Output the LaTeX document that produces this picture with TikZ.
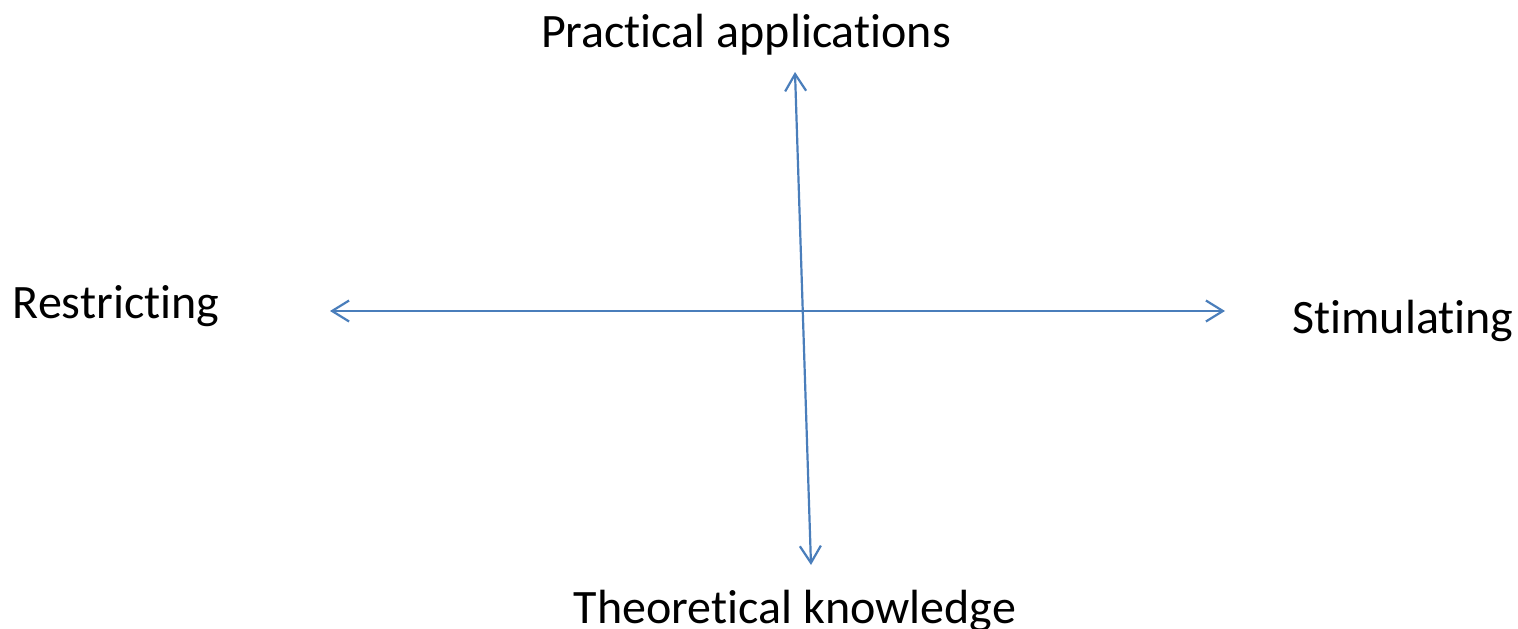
\documentclass[tikz,border=0pt]{standalone}
\usepackage{fontspec}
\setmainfont{Carlito}[Ligatures={NoCommon}]
\usepackage{tikz}
\usetikzlibrary{positioning}
\usetikzlibrary{arrows.meta}
\definecolor{axisblue}{RGB}{74,126,187}

\begin{document}
\begin{tikzpicture}[x=1pt, y=-1pt, font=\fontsize{48}{57}\selectfont,
    axis/.style={draw=axisblue, line width=2.2pt, {Straight Barb[length=17pt,width=21pt]}-{Straight Barb[length=17pt,width=21pt]}},
    label/.style={anchor=base, inner sep=0pt}]
    \useasboundingbox (0,0) rectangle (1518,629);

        \coordinate (top) at (795,72);
        \coordinate (bottom) at (811,565);
        \coordinate (left) at (330,311);
        \coordinate (right) at (1225,311);

        \node [label] (practical) at (746,47) {Practical applications};
        \node [label] (theoretical) at (795,623) {Theoretical knowledge};
        \node [label] (restricting) at (116,318) {Restricting};
        \node [label] (stimulating) at (1403,333) {Stimulating};

        \draw [axis] (top) -- (bottom);
        \draw [axis] (left) -- (right);

    \end{tikzpicture}
\end{document}
